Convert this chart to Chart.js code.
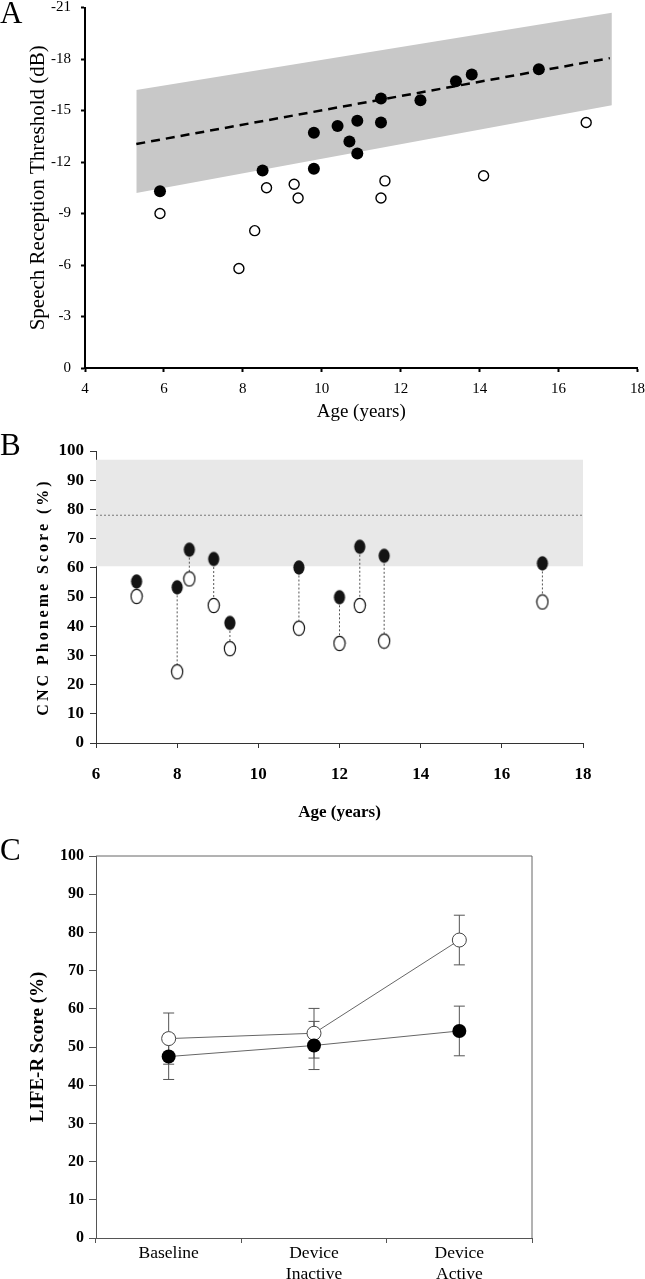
<!DOCTYPE html>
<html><head><meta charset="utf-8">
<script src="https://cdn.jsdelivr.net/npm/chart.js@4.4.1/dist/chart.umd.min.js"></script>
<style>
body{margin:0;background:#fff;}
#wrap{position:relative;width:645px;height:1279px;overflow:hidden;font-family:'Liberation Serif','Times New Roman',serif;color:#000;}
canvas{position:absolute;left:0;}
.letter{position:absolute;left:0;font-size:31px;line-height:1;}
#ytB{position:absolute;left:43px;top:597px;transform:translate(-50%,-50%) rotate(-90deg);white-space:nowrap;font-weight:bold;font-size:16px;letter-spacing:3px;}
</style></head>
<body><div id="wrap">
<canvas id="cA" width="653" height="440" style="top:-10px"></canvas>
<canvas id="cB" width="645" height="400" style="top:430px"></canvas>
<canvas id="cC" width="645" height="449" style="top:830px"></canvas>
<div class="letter" style="top:-3px">A</div>
<div class="letter" style="top:429px">B</div>
<div class="letter" style="top:834px">C</div>
<div id="ytB">CNC Phoneme Score (%)</div>
</div>
<script>
// ---------- Panel A data ----------
const ageFilledA = [5.9, 8.5, 9.8, 9.8, 10.4, 10.7, 10.9, 10.9, 11.5, 11.5, 12.5, 13.4, 13.8, 15.5];
const srtFilledA = [-10.3, -11.5, -13.7, -11.6, -14.1, -13.2, -12.5, -14.4, -15.7, -14.3, -15.6, -16.7, -17.1, -17.4];
const ageOpenA = [5.9, 7.9, 8.3, 8.6, 9.3, 9.4, 11.5, 11.6, 14.1, 16.7];
const srtOpenA = [-9.0, -5.8, -8.0, -10.5, -10.7, -9.9, -9.9, -10.9, -11.2, -14.3];
const bandAgeA = [5.3, 17.35];
const bandUpperA = [-16.2, -20.7];
const bandLowerA = [-10.2, -15.3];
const fitAgeA = [5.3, 17.3];
const fitSrtA = [-13.05, -18.05];
const xTicksA = [4, 18, 2];     // min, max, step
const yTicksA = [-21, 0, 3];

// ---------- Panel B data ----------
const ageB = [7, 8, 8.3, 8.9, 9.3, 11, 12, 12.5, 13.1, 17];
const activeB = [55.3, 53.3, 66.2, 63.0, 41.1, 60.1, 49.9, 67.2, 64.1, 61.5];
const inactiveB = [50.2, 24.4, 56.2, 47.1, 32.3, 39.3, 34.1, 47.1, 34.9, 48.3];
const bandAgeB = [6, 18];
const bandTopB = 97;
const bandBottomB = 60.5;
const refLineB = 78;

// ---------- Panel C data ----------
const categoriesC = ['Baseline', ['Device', 'Inactive'], ['Device', 'Active']];
const openMeanC = [52.2, 53.6, 78.0];
const openErrC = [6.7, 6.5, 6.5];
const filledMeanC = [47.5, 50.4, 54.2];
const filledErrC = [6.0, 6.3, 6.5];

// ---------- common ----------
const serif = "'Liberation Serif', 'Times New Roman', serif";
Chart.defaults.font.family = serif;
Chart.defaults.color = '#000';
Chart.defaults.animation = false;
Chart.defaults.plugins.legend.display = false;
Chart.defaults.plugins.tooltip.enabled = false;
const xy = (xs, ys) => xs.map((x, i) => ({x, y: ys[i]}));

// ---------- Chart A ----------
new Chart(document.getElementById('cA'), {
  type: 'scatter',
  data: { datasets: [
    {data: xy(ageFilledA, srtFilledA), pointRadius: 6, pointBackgroundColor: '#000', pointBorderColor: '#000', pointBorderWidth: 0, order: 0},
    {data: xy(ageOpenA, srtOpenA), pointRadius: 5, pointBackgroundColor: '#fff', pointBorderColor: '#000', pointBorderWidth: 1.4, order: 0},
    {type: 'line', data: xy(fitAgeA, fitSrtA), pointRadius: 0, borderColor: '#000', borderWidth: 2.5, borderDash: [9, 6], fill: false, order: 1},
    {type: 'line', data: xy(bandAgeA, bandUpperA), pointRadius: 0, borderWidth: 0, borderColor: 'rgba(0,0,0,0)', fill: false, order: 2},
    {type: 'line', data: xy(bandAgeA, bandLowerA), pointRadius: 0, borderWidth: 0, borderColor: 'rgba(0,0,0,0)', fill: '-1', backgroundColor: '#c8c8c8', order: 2}
  ]},
  options: {
    responsive: false,
    layout: {padding: {top: 7, right: 8, left: 0, bottom: 0}},
    scales: {
      x: {type: 'linear', min: xTicksA[0], max: xTicksA[1],
          ticks: {stepSize: xTicksA[2], font: {size: 15}, padding: 8},
          grid: {drawOnChartArea: false, tickLength: 4, tickColor: '#000', tickWidth: 2},
          border: {color: '#000', width: 2},
          title: {display: true, text: 'Age (years)', font: {size: 19}, padding: {top: 0, bottom: 7}},
          afterFit: s => { s.height = 62; }},
      y: {type: 'linear', min: yTicksA[0], max: yTicksA[1], reverse: true,
          ticks: {stepSize: yTicksA[2], font: {size: 15, lineHeight: 1}, padding: 10},
          grid: {drawOnChartArea: false, tickLength: 4, tickColor: '#000', tickWidth: 2},
          border: {color: '#000', width: 2},
          title: {display: true, text: 'Speech Reception Threshold (dB)', font: {size: 21}, padding: {top: 26, bottom: 0}},
          afterFit: s => { s.width = 85; }}
    }
  }
});

// ---------- Chart B ----------
function ellipseStyle(fill, stroke) {
  const c = document.createElement('canvas');
  c.width = 14; c.height = 17;
  const g = c.getContext('2d');
  g.beginPath();
  g.ellipse(7, 8.5, 5.6, 7.2, 0, 0, Math.PI * 2);
  g.fillStyle = fill; g.fill();
  if (stroke) { g.lineWidth = 1.2; g.strokeStyle = stroke; g.stroke(); }
  return c;
}
const connectorsB = [];
ageB.forEach((a, i) => {
  connectorsB.push({x: a, y: activeB[i]}, {x: a, y: inactiveB[i]}, {x: a, y: null});
});
new Chart(document.getElementById('cB'), {
  type: 'scatter',
  data: { datasets: [
    {data: xy(ageB, activeB), pointStyle: ellipseStyle('#141414', null), pointRadius: 7, order: 0},
    {data: xy(ageB, inactiveB), pointStyle: ellipseStyle('#fff', '#111'), pointRadius: 7, order: 0},
    {type: 'line', data: connectorsB, pointRadius: 0, borderColor: '#555', borderWidth: 1, borderDash: [2, 2], spanGaps: false, fill: false, order: 1},
    {type: 'line', data: bandAgeB.map(a => ({x: a, y: refLineB})), pointRadius: 0, borderColor: '#777', borderWidth: 1, borderDash: [2, 2], fill: false, order: 2},
    {type: 'line', data: bandAgeB.map(a => ({x: a, y: bandTopB})), pointRadius: 0, borderWidth: 0, borderColor: 'rgba(0,0,0,0)', fill: {value: bandBottomB}, backgroundColor: '#e8e8e8', order: 3}
  ]},
  options: {
    responsive: false,
    layout: {padding: {top: 21, right: 62, left: 0, bottom: 0}},
    scales: {
      x: {type: 'linear', min: 6, max: 18,
          ticks: {stepSize: 2, font: {size: 17, weight: 'bold'}, padding: 16},
          grid: {drawOnChartArea: false, tickLength: 5, tickColor: '#333', tickWidth: 1},
          border: {color: '#333', width: 1},
          title: {display: true, text: 'Age (years)', font: {size: 17, weight: 'bold'}, padding: {top: 0, bottom: 7}},
          afterFit: s => { s.height = 87; }},
      y: {type: 'linear', min: 0, max: 100,
          ticks: {stepSize: 10, font: {size: 17, weight: 'bold', lineHeight: 1}, padding: 6},
          grid: {drawOnChartArea: false, tickLength: 6, tickColor: '#333', tickWidth: 1},
          border: {color: '#333', width: 1},
          afterFit: s => { s.width = 96; }}
    }
  }
});

// ---------- Chart C ----------
const errorBarsC = {
  id: 'errorBarsC',
  beforeDatasetsDraw(chart) {
    const {ctx, scales: {x, y}} = chart;
    ctx.save();
    ctx.strokeStyle = '#555'; ctx.lineWidth = 1;
    [[openMeanC, openErrC], [filledMeanC, filledErrC]].forEach(([m, e]) => {
      m.forEach((v, i) => {
        const px = x.getPixelForValue(i);
        const t = y.getPixelForValue(v + e[i]);
        const b = y.getPixelForValue(v - e[i]);
        ctx.beginPath();
        ctx.moveTo(px, t); ctx.lineTo(px, b);
        ctx.moveTo(px - 5.5, t); ctx.lineTo(px + 5.5, t);
        ctx.moveTo(px - 5.5, b); ctx.lineTo(px + 5.5, b);
        ctx.stroke();
      });
    });
    ctx.restore();
  }
};
const frameC = {
  id: 'frameC',
  beforeDatasetsDraw(chart) {
    const {ctx, chartArea: a} = chart;
    ctx.save();
    ctx.strokeStyle = '#666'; ctx.lineWidth = 1;
    ctx.beginPath();
    ctx.moveTo(a.left, a.top); ctx.lineTo(a.right, a.top); ctx.lineTo(a.right, a.bottom);
    ctx.stroke();
    ctx.restore();
  }
};
new Chart(document.getElementById('cC'), {
  type: 'line',
  data: {
    labels: categoriesC,
    datasets: [
      {data: filledMeanC, borderColor: '#666', borderWidth: 1, pointRadius: 7, pointBackgroundColor: '#000', pointBorderColor: '#000', pointBorderWidth: 0, order: 0},
      {data: openMeanC, borderColor: '#666', borderWidth: 1, pointRadius: 7, pointBackgroundColor: '#fff', pointBorderColor: '#444', pointBorderWidth: 1, order: 1}
    ]
  },
  options: {
    responsive: false,
    layout: {padding: {top: 26, right: 113, left: 0, bottom: 0}},
    scales: {
      x: {type: 'category', offset: true,
          ticks: {font: {size: 17.5}, padding: 0, maxRotation: 0},
          grid: {offset: true, drawOnChartArea: false, tickLength: 5, tickColor: '#555', tickWidth: 1},
          border: {color: '#555', width: 1},
          afterFit: s => { s.height = 41; }},
      y: {type: 'linear', min: 0, max: 100,
          ticks: {stepSize: 10, font: {size: 16, weight: 'bold', lineHeight: 1}, padding: 5},
          grid: {drawOnChartArea: false, tickLength: 7, tickColor: '#555', tickWidth: 1},
          border: {color: '#555', width: 1},
          title: {display: true, text: 'LIFE-R Score (%)', font: {size: 19, weight: 'bold'}, padding: {top: 27, bottom: 0}},
          afterFit: s => { s.width = 96; }}
    }
  },
  plugins: [errorBarsC, frameC]
});
</script>
</body></html>
